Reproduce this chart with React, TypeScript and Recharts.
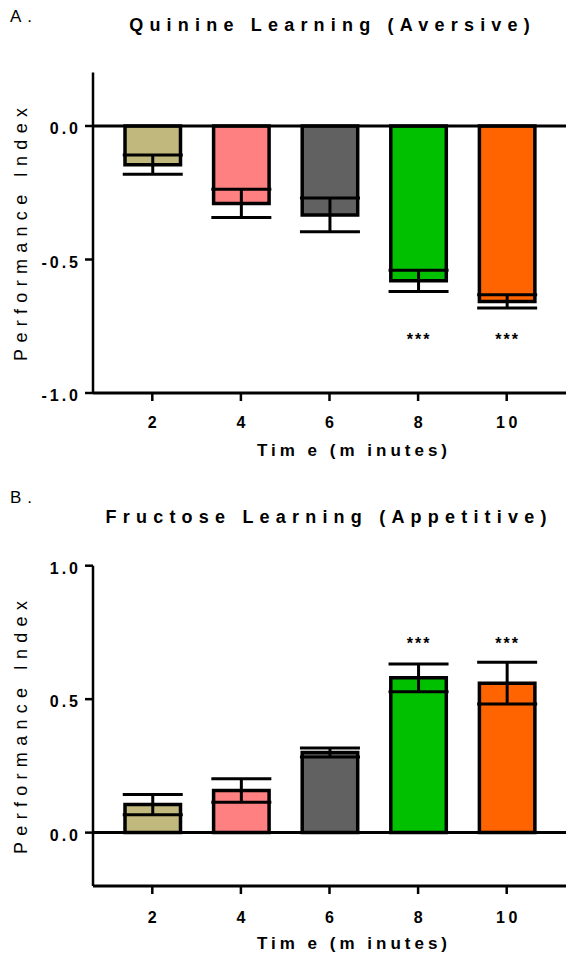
import React from 'react';
import { ComposedChart, Bar, Cell, ErrorBar, XAxis, YAxis, ReferenceLine, Scatter, Label } from 'recharts';

const categories = ['2', '4', '6', '8', '10'];
const barColors = ['#C1B87D', '#FF8080', '#616161', '#00C000', '#FF6400'];

const quinineMeans = [-0.145, -0.29, -0.333, -0.58, -0.657];
const quinineSem = [0.036, 0.053, 0.063, 0.04, 0.025];
const quinineSig = [false, false, false, true, true];
const quinineTicks = [0, -0.5, -1.0];
const quinineDomain = [-1, 0.2];
const quinineStarLevel = -0.785;

const fructoseMeans = [0.105, 0.158, 0.3, 0.58, 0.56];
const fructoseSem = [0.038, 0.044, 0.017, 0.052, 0.078];
const fructoseSig = [false, false, false, true, true];
const fructoseTicks = [0, 0.5, 1.0];
const fructoseDomain = [-0.2, 1];
const fructoseStarLevel = 0.722;

const FONT = '"Liberation Sans", Arial, sans-serif';

function buildData(means: number[], sem: number[], sig: boolean[], starLevel: number) {
  return categories.map((c, i) => ({
    time: c,
    mean: means[i],
    sem: sem[i],
    sig: sig[i],
    star: starLevel,
  }));
}

const quinineData = buildData(quinineMeans, quinineSem, quinineSig, quinineStarLevel);
const fructoseData = buildData(fructoseMeans, fructoseSem, fructoseSig, fructoseStarLevel);

const YTick = (props: any) => {
  const { x, y, payload } = props;
  return (
    <text x={x} y={y} dy={8} textAnchor="end" fontFamily={FONT} fontSize={16} fontWeight={700} fill="#000" letterSpacing={3}>
      {Number(payload.value).toFixed(1)}
    </text>
  );
};

const XTick = (props: any) => {
  const { x, y, payload } = props;
  return (
    <text x={x + 1.75} y={y} dy={11.5} textAnchor="middle" fontFamily={FONT} fontSize={16} fontWeight={700} fill="#000" letterSpacing={3.5}>
      {payload.value}
    </text>
  );
};

const StarShape = (props: any) => {
  const { cx, cy, payload } = props;
  if (!payload || !payload.sig || cx == null || cy == null || isNaN(cy)) return <g />;
  return (
    <text x={cx + 1} y={cy + 9} textAnchor="middle" fontFamily={FONT} fontSize={16} fontWeight={700} fill="#000" letterSpacing={2}>
      ***
    </text>
  );
};

const YLabel = (props: any) => {
  const vb = props.viewBox || {};
  const cy = vb.y + vb.height / 2 - 1.5;
  const x = 27;
  return (
    <text x={x} y={cy} transform={`rotate(-90, ${x}, ${cy})`} textAnchor="middle" fontFamily={FONT} fontSize={18} fill="#000" letterSpacing={6.3}>
      Performance Index
    </text>
  );
};

const makeXLabel = (offset: number) => (props: any) => {
  const vb = props.viewBox || {};
  return (
    <text x={354} y={vb.y + offset} textAnchor="middle" fontFamily={FONT} fontSize={17} fontWeight={700} fill="#000" letterSpacing={4}>
      Tim e (m inutes)
    </text>
  );
};

type PanelProps = {
  top: number;
  height: number;
  plotTop: number;
  plotBottom: number;
  data: any[];
  domain: number[];
  ticks: number[];
  tickMargin: number;
};

function Panel({ top, height, plotTop, plotBottom, data, domain, ticks, tickMargin }: PanelProps) {
  const xAxisHeight = 70;
  return (
    <div style={{ position: 'absolute', left: 0, top }}>
      <ComposedChart
        width={566}
        height={height}
        data={data}
        margin={{ top: plotTop, right: 0, left: 0, bottom: height - plotBottom - xAxisHeight }}
      >
        <XAxis
          dataKey="time"
          type="category"
          padding={{ left: 15, right: 15 }}
          height={xAxisHeight}
          interval={0}
          axisLine={{ stroke: '#000', strokeWidth: 3 }}
          tickLine={{ stroke: '#000', strokeWidth: 2.5 }}
          tickSize={8}
          tickMargin={tickMargin}
          tick={XTick}
        >
          <Label content={makeXLabel(63)} />
        </XAxis>
        <YAxis
          type="number"
          domain={domain as any}
          ticks={ticks}
          allowDataOverflow
          width={93}
          axisLine={{ stroke: '#000', strokeWidth: 2.5 }}
          tickLine={{ stroke: '#000', strokeWidth: 2.5 }}
          tickSize={8}
          tickMargin={4}
          tick={YTick}
          interval={0}
        >
          <Label content={YLabel} />
        </YAxis>
        <ReferenceLine y={0} stroke="#000" strokeWidth={3} ifOverflow="extendDomain" />
        <Bar dataKey="mean" barSize={55.5} stroke="#000" strokeWidth={3.5} isAnimationActive={false}>
          {data.map((d, i) => (
            <Cell key={i} fill={barColors[i]} />
          ))}
          <ErrorBar dataKey="sem" width={30} stroke="#000" strokeWidth={3} direction="y" isAnimationActive={false} />
        </Bar>
        <Scatter dataKey="star" shape={StarShape} isAnimationActive={false} />
      </ComposedChart>
    </div>
  );
}

export default function App() {
  return (
    <div style={{ position: 'absolute', left: 0, top: 0, width: 566, height: 957, background: '#fff' }}>
      <Panel top={0} height={480} plotTop={72.6} plotBottom={393} data={quinineData} domain={quinineDomain} ticks={quinineTicks} tickMargin={15} />
      <Panel top={480} height={477} plotTop={85.7} plotBottom={406} data={fructoseData} domain={fructoseDomain} ticks={fructoseTicks} tickMargin={17} />
      <svg width={566} height={957} style={{ position: 'absolute', left: 0, top: 0, pointerEvents: 'none' }}>
        <text x={10} y={22} fontFamily={FONT} fontSize={17} fill="#000" letterSpacing={6}>A.</text>
        <text x={332.6} y={31} textAnchor="middle" fontFamily={FONT} fontSize={18} fontWeight={700} fill="#000" letterSpacing={6.2}>
          Quinine Learning (Aversive)
        </text>
        <text x={10} y={503} fontFamily={FONT} fontSize={17} fill="#000" letterSpacing={6}>B.</text>
        <text x={329.1} y={523} textAnchor="middle" fontFamily={FONT} fontSize={18} fontWeight={700} fill="#000" letterSpacing={6.2}>
          Fructose Learning (Appetitive)
        </text>
      </svg>
    </div>
  );
}
